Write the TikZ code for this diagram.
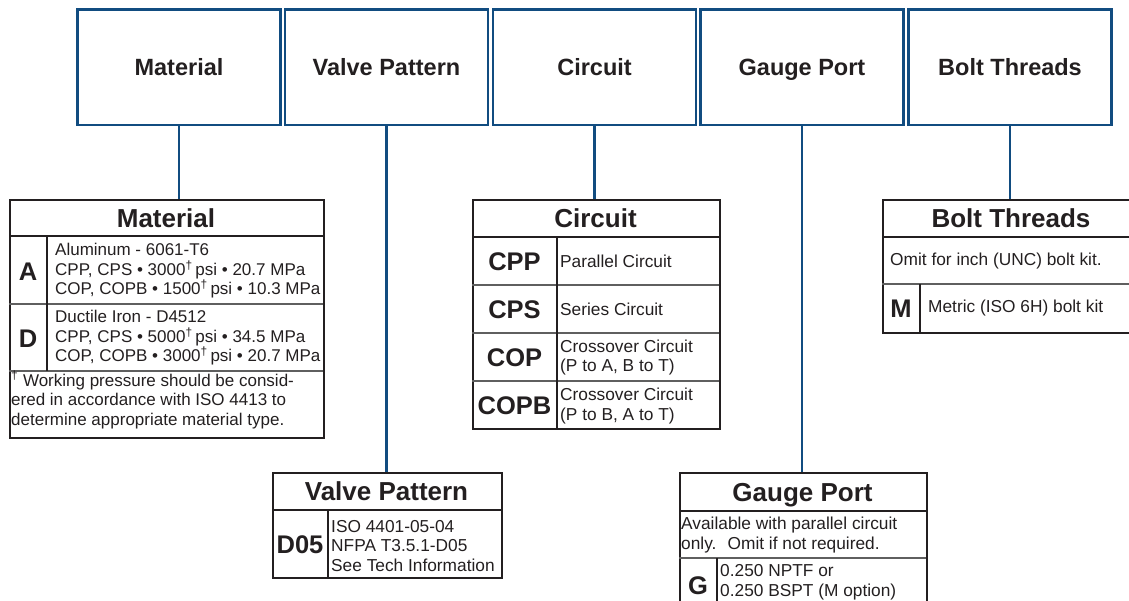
\documentclass[tikz,border=0pt]{standalone}
\usepackage{fontspec}
\setmainfont{Liberation Sans}
\definecolor{topblue}{RGB}{17,76,128}
\definecolor{inkdark}{RGB}{35,31,32}
\definecolor{rulegray}{RGB}{95,95,95}
\newcommand{\dg}{\textsuperscript{†}\kern-2pt}

\begin{document}
\begin{tikzpicture}[x=1pt,y=-1pt,
    topbox/.style={draw=topblue,line width=2.5pt,minimum width=203pt,minimum height=115.5pt,
      inner sep=0pt,text height=17pt,text depth=0pt,text=inkdark,font=\fontsize{23.5}{27}\selectfont\bfseries},
    link/.style={draw=topblue,line width=2.2pt},
    tabbox/.style={draw=inkdark,line width=2.4pt,inner sep=0pt,anchor=north west},
    headrule/.style={draw=inkdark,line width=2pt},
    rowrule/.style={draw=rulegray,line width=1.5pt},
    colrule/.style={draw=inkdark,line width=1.3pt},
    headtxt/.style={inner sep=0pt,text height=19pt,text depth=0pt,text=inkdark,font=\fontsize{26}{30}\selectfont\bfseries},
    codetxt/.style={inner sep=0pt,text height=18.5pt,text depth=0pt,text=inkdark,font=\fontsize{25.5}{30}\selectfont\bfseries},
    bodytxt/.style={inner sep=0pt,anchor=west,align=left,text=inkdark,font=\fontsize{17.3}{19.5}\selectfont},
    mattxt/.style={bodytxt,font=\fontsize{17}{19.5}\selectfont}]
  \clip (0,0) rectangle (1129,600);

  % top row of the order code
  \node[topbox] (matbox) at (179,67) {Material};
  \node[topbox] (valvebox) at (386.5,67) {Valve Pattern};
  \node[topbox] (circbox) at (594.5,67) {Circuit};
  \node[topbox] (gaugebox) at (802,67) {Gauge Port};
  \node[topbox] (boltbox) at (1010,67) {Bolt Threads};

  % Material
  \node[tabbox,minimum width=314pt,minimum height=238pt] (mattab) at (9,199) {};
  \draw[headrule] (9,236) -- (323,236);
  \draw[rowrule] (9,304) -- (323,304);
  \draw[rowrule] (9,371) -- (323,371);
  \draw[colrule] (47,236) -- (47,371);
  \node[headtxt] (mathead) at (166,217.5) {Material};
  \node[codetxt] (matA) at (28,271) {A};
  \node[mattxt] (matAtxt) at (55,271) {Aluminum - 6061-T6\\
    CPP, CPS • 3000\dg{} psi • 20.7 MPa\\
    COP, COPB • 1500\dg{} psi • 10.3 MPa};
  \node[codetxt] (matD) at (28,338) {D};
  \node[mattxt] (matDtxt) at (55,338) {Ductile Iron - D4512\\
    CPP, CPS • 5000\dg{} psi • 34.5 MPa\\
    COP, COPB • 3000\dg{} psi • 20.7 MPa};
  \node[mattxt] (matnote) at (11,400) {\textsuperscript{†} Working pressure should be consid-\\
    ered in accordance with ISO 4413 to\\
    determine appropriate material type.};

  % Circuit
  \node[tabbox,minimum width=247pt,minimum height=229pt] (circtab) at (472,199) {};
  \draw[headrule] (472,237) -- (719,237);
  \draw[rowrule] (472,285) -- (719,285);
  \draw[rowrule] (472,333) -- (719,333);
  \draw[rowrule] (472,381) -- (719,381);
  \draw[colrule] (557,237) -- (557,428);
  \node[headtxt] (circhead) at (595.5,218) {Circuit};
  \node[codetxt] (cpp) at (514.5,261) {CPP};
  \node[bodytxt] (cpptxt) at (560,261) {Parallel Circuit};
  \node[codetxt] (cps) at (514.5,309) {CPS};
  \node[bodytxt] (cpstxt) at (560,309) {Series Circuit};
  \node[codetxt] (cop) at (514.5,357) {COP};
  \node[bodytxt] (coptxt) at (560,357.5) {Crossover Circuit\\(P to A, B to T)};
  \node[codetxt] (copb) at (514.5,405) {COPB};
  \node[bodytxt] (copbtxt) at (560,406) {Crossover Circuit\\(P to B, A to T)};

  % Bolt Threads
  \node[tabbox,minimum width=258pt,minimum height=133pt] (bolttab) at (882,199) {};
  \draw[headrule] (882,237) -- (1140,237);
  \draw[rowrule] (882,284) -- (1140,284);
  \draw[colrule] (920,284) -- (920,332);
  \node[headtxt] (bolthead) at (1011,218) {Bolt Threads};
  \node[bodytxt] (bolttxt) at (890,261) {Omit for inch (UNC) bolt kit.};
  \node[codetxt] (boltM) at (901,308) {M};
  \node[bodytxt] (boltMtxt) at (928,308) {Metric (ISO 6H) bolt kit};

  % Valve Pattern
  \node[tabbox,minimum width=229pt,minimum height=105pt] (valvetab) at (272,472) {};
  \draw[headrule] (272,510) -- (501,510);
  \draw[colrule] (328,510) -- (328,577);
  \node[headtxt] (valvehead) at (386.5,491) {Valve Pattern};
  \node[codetxt] (d05) at (300,544) {D05};
  \node[bodytxt] (d05txt) at (331,546) {ISO 4401-05-04\\NFPA T3.5.1-D05\\See Tech Information};

  % Gauge Port
  \node[tabbox,minimum width=247pt,minimum height=150pt] (gaugetab) at (679,472) {};
  \draw[headrule] (679,511) -- (926,511);
  \draw[rowrule] (679,558) -- (926,558);
  \draw[colrule] (717,558) -- (717,622);
  \node[headtxt] (gaugehead) at (802.5,491.5) {Gauge Port};
  \node[bodytxt] (gaugetxt) at (681,535) {Available with parallel circuit\\only.~ Omit if not required.};
  \node[codetxt] (gaugeG) at (698,585) {G};
  \node[bodytxt] (gaugeGtxt) at (720,582) {0.250 NPTF or\\0.250 BSPT (M option)};

  % links
  \draw[link] (matbox.south) -- (matbox.south |- mattab.north);
  \draw[link] (valvebox.south) -- (valvebox.south |- valvetab.north);
  \draw[link] (circbox.south) -- (circbox.south |- circtab.north);
  \draw[link] (gaugebox.south) -- (gaugebox.south |- gaugetab.north);
  \draw[link] (boltbox.south) -- (boltbox.south |- bolttab.north);
\end{tikzpicture}
\end{document}
